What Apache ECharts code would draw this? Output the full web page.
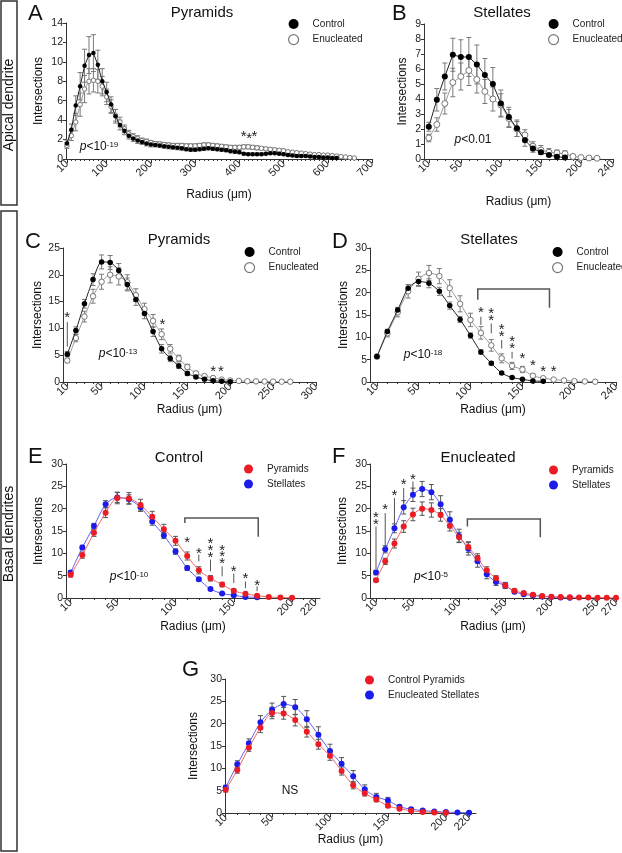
<!DOCTYPE html>
<html><head><meta charset="utf-8">
<script src="https://cdn.jsdelivr.net/npm/echarts@6/dist/echarts.min.js"></script>
<style>html,body{margin:0;padding:0;background:#fff}#c{width:622px;height:853px}</style>
</head><body><div id="c"></div>
<script>
const FONT = '"Liberation Sans", Arial, Helvetica, sans-serif';

// ---------- radii (µm) ----------
const apRadius = [10,20,30,40,50,60,70,80,90,100,110,120,130,140,150,160,170,180,190,200,210,220,230,240,250,260,270,280,290,300,310,320,330,340,350,360,370,380,390,400,410,420,430,440,450,460,470,480,490,500,510,520,530,540,550,560,570,580,590,600,610,620,630,640,650,660];
const basalRadius = [10,20,30,40,50,60,70,80,90,100,110,120,130,140,150,160,170,180,190,200,210,220,230,240,250,260,270];

// ---------- Apical dendrite: pyramids (A) ----------
const apPyrCtrl = [1.6,3.0,5.5,7.5,9.6,10.7,10.9,9.7,8.0,6.9,5.6,4.4,3.5,2.9,2.4,2.1,1.9,1.75,1.6,1.5,1.45,1.4,1.3,1.25,1.2,1.15,1.1,1.0,0.95,0.95,1.0,1.05,1.1,1.05,1.0,0.95,0.9,0.8,0.75,0.7,0.55,0.5,0.5,0.5,0.5,0.55,0.6,0.6,0.55,0.5,0.4,0.35,0.3,0.3,0.3,0.25,0.2,0.2,0.15,0.15,0.1,0.1];
const apPyrCtrlSem = [0.35,0.6,1.0,1.4,1.7,1.9,1.9,1.5,1.3,1.0,0.8,0.7,0.5,0.4,0.35,0.3,0.3,0.25,0.25,0.25,0.2,0.2,0.2,0.2,0.2,0.2,0.2,0.15,0.15,0.15,0.15,0.15,0.15,0.15,0.15,0.15,0.15,0.15,0.15,0.15,0.12,0.12,0.12,0.12,0.12,0.12,0.12,0.12,0.12,0.12,0.1,0.1,0.1,0.1,0.1,0.08,0.08,0.08,0.06,0.06,0.05,0.05];
const apPyrEnuc = [1.4,2.4,3.8,5.6,7.2,8.0,8.1,8.0,7.5,6.4,5.4,4.5,3.8,3.1,2.6,2.3,2.1,1.9,1.8,1.7,1.6,1.55,1.5,1.45,1.4,1.4,1.4,1.35,1.35,1.35,1.4,1.45,1.45,1.4,1.35,1.3,1.25,1.2,1.2,1.2,1.25,1.25,1.2,1.15,1.1,1.05,1.0,0.95,0.9,0.85,0.75,0.7,0.65,0.6,0.55,0.5,0.45,0.45,0.4,0.4,0.35,0.3,0.25,0.2,0.15,0.1];
const apPyrEnucSem = [0.3,0.5,0.9,1.2,1.4,1.3,1.2,1.2,1.0,0.8,0.7,0.6,0.5,0.4,0.35,0.3,0.3,0.25,0.25,0.2,0.2,0.2,0.2,0.2,0.2,0.2,0.2,0.2,0.2,0.2,0.2,0.2,0.2,0.2,0.2,0.2,0.2,0.2,0.2,0.2,0.2,0.2,0.2,0.2,0.15,0.15,0.15,0.15,0.15,0.15,0.12,0.12,0.12,0.12,0.1,0.1,0.1,0.1,0.1,0.1,0.08,0.08,0.06,0.06,0.05,0.05];

// ---------- Apical dendrite: stellates (B) ----------
const apStelCtrl = [2.15,3.95,5.5,6.95,6.8,6.8,6.3,5.6,5.0,3.7,2.8,2.05,1.25,0.7,0.45,0.27,0.15,0.1];
const apStelCtrlSem = [0.3,0.75,0.9,1.1,1.15,1.3,1.3,1.1,1.1,0.9,0.65,0.55,0.4,0.25,0.15,0.1,0.08,0.05];
const apStelEnuc = [1.4,2.3,3.7,5.1,5.5,5.9,5.3,4.5,4.0,3.6,2.7,2.0,1.6,0.85,0.6,0.45,0.4,0.35,0.17,0.1,0.07,0.05];
const apStelEnucSem = [0.25,0.45,0.7,0.95,0.9,1.0,0.9,0.8,0.8,0.75,0.6,0.5,0.35,0.3,0.3,0.25,0.2,0.2,0.1,0.05,0.05,0.03];

// ---------- Basal dendrites ----------
const pyrCtrl = [5.2,9.6,14.6,19.1,22.4,22.3,20.8,18.2,15.4,12.8,9.4,6.2,4.4,3.0,1.6,0.95,0.5,0.25,0.12,0.06];
const pyrCtrlSem = [0.5,0.7,0.8,1.1,1.3,1.3,1.3,1.2,1.1,1.0,0.9,0.8,0.6,0.5,0.4,0.3,0.2,0.1,0.1,0.05];
const pyrEnuc = [4.0,8.2,12.2,16.0,18.7,20.0,19.7,18.6,16.2,13.6,11.4,8.9,6.2,4.4,2.8,1.6,1.1,0.75,0.45,0.28,0.2,0.15,0.12,0.1,0.08,0.06,0.05];
const pyrEnucSem = [0.4,0.7,1.0,1.3,1.4,1.5,1.6,1.4,1.2,1.1,1.2,1.0,0.8,0.6,0.5,0.4,0.3,0.2,0.15,0.1,0.1,0.08,0.06,0.05,0.05,0.04,0.04];
const stelCtrl = [5.7,11.3,16.1,21.0,22.5,22.1,20.3,17.1,14.0,10.4,6.7,4.2,2.0,1.0,0.6,0.25,0.15];
const stelCtrlSem = [0.4,0.5,0.6,0.8,1.1,1.0,0.9,0.8,0.7,0.6,0.5,0.4,0.3,0.2,0.15,0.1,0.1];
const stelEnuc = [5.7,10.9,15.6,20.3,23.1,24.4,23.7,21.0,17.5,13.9,11.0,8.2,5.3,3.6,2.8,1.4,0.85,0.55,0.35,0.2,0.12,0.06];
const stelEnucSem = [0.5,0.8,1.0,1.5,1.5,1.7,1.7,1.9,1.8,1.5,1.4,1.3,1.0,0.8,0.7,0.4,0.3,0.2,0.15,0.1,0.08,0.05];

// ---------- tick labels ----------
const ticksA = [10,100,200,300,400,500,600,700];
const ticksB = [10,50,100,150,200,240];
const ticksC = [10,50,100,150,200,250,300];
const ticksD = [10,50,100,150,200,240];
const ticksE = [10,50,100,150,200,220];
const ticksF = [10,50,100,150,200,250,270];
const ticksG = [10,50,100,150,200,220];

// ---------- significance annotations (data coordinates) ----------
const starsA = [[410,2.6],[422,2.35],[434,2.6]];
const starsC = [[10,12.5],[121,11.3],[180,2.5],[189,2.4]];
const sigLinesC = [[10,11.2,6.6]];
const starsD = [[110,16.1],[120,16.0],[120,14.3],[130,12.4],[130,10.7],[140,9.75],[140,8.0],[150,5.85],[160,4.3],[170,3.0],[180,2.85]];
const sigLinesD = [[110,14.6,12.75],[120,13.1,10.9],[130,9.4,7.5],[140,6.75,5.25]];
const bracketD = [[107,176,20.8,18.4,16.6]];
const starsE = [[110,13.0],[120,10.6],[130,12.9],[130,11.3],[130,9.7],[140,11.3],[140,9.8],[140,8.3],[150,6.5],[160,4.85],[170,3.5]];
const sigLinesE = [[120,9.7,8.2],[130,8.6,6.0],[140,7.1,4.85],[150,5.45,3.35],[160,3.7,2.2],[170,2.6,1.5]];
const bracketE = [[108,171,17.9,16.8,13.7]];
const starsF = [[10,18.6],[10,17.1],[20,20.3],[30,23.6],[40,25.9],[50,27.2]];
const sigLinesF = [[10,16.0,6.5],[20,19.0,11.6],[30,22.4,16.5],[40,24.6,21.3],[50,26.1,23.9]];
const bracketF = [[109,188,17.7,16.0,13.6]];

// ---------- layout ----------
const panels = [
  {grid:{left:66, top:23, width:306, height:136}, xMin:8,   xMax:700, ticks:ticksA, yMax:14, yInt:2, gapY:21, gapX:30},
  {grid:{left:424,top:24, width:189, height:135}, xMin:4,   xMax:240, ticks:ticksB, yMax:9,  yInt:1, gapY:15, gapX:37},
  {grid:{left:63, top:248,width:253, height:134}, xMin:5,   xMax:300, ticks:ticksC, yMax:25, yInt:5, gapY:19, gapX:22},
  {grid:{left:370,top:248,width:246, height:134}, xMin:3.3, xMax:240, ticks:ticksD, yMax:30, yInt:5, gapY:20, gapX:22},
  {grid:{left:66, top:464,width:254, height:134}, xMin:6,   xMax:224, ticks:ticksE, yMax:30, yInt:5, gapY:21, gapX:23},
  {grid:{left:370,top:464,width:246, height:134}, xMin:3.5, xMax:270, ticks:ticksF, yMax:30, yInt:5, gapY:21, gapX:23},
  {grid:{left:225,top:679,width:251, height:134}, xMin:9.4, xMax:226, ticks:ticksG, yMax:30, yInt:5, gapY:25, gapX:21}
];

const AX = '#333';
const grids = [], xAxes = [], yAxes = [];
panels.forEach((p, i) => {
  grids.push(Object.assign({outerBoundsMode:'none', containLabel:false}, p.grid));
  const minor = [];
  for (let v = 10; v <= p.xMax; v += 10) if (p.ticks.indexOf(v) < 0) minor.push(v);
  xAxes.push({
    type:'value', gridIndex:i, position:'bottom', min:p.xMin, max:p.xMax,
    name:'Radius (\u03bcm)', nameLocation:'middle', nameGap:p.gapX, nameMoveOverlap:false,
    nameTextStyle:{fontSize:12, fontFamily:FONT, color:'#111'},
    axisLine:{show:true, lineStyle:{color:AX, width:1}},
    axisTick:{show:true, customValues:p.ticks, length:4, lineStyle:{color:AX}},
    axisLabel:{show:true, customValues:p.ticks, rotate:45, fontSize:11, fontFamily:FONT, color:'#222', margin:3},
    splitLine:{show:false}
  });
  xAxes.push({
    type:'value', gridIndex:i, position:'bottom', min:p.xMin, max:p.xMax,
    axisLine:{show:false}, axisLabel:{show:false}, splitLine:{show:false},
    axisTick:{show:true, customValues:minor, length:2, lineStyle:{color:AX}}
  });
  yAxes.push({
    type:'value', gridIndex:i, min:0, max:p.yMax, interval:p.yInt,
    name:'Intersections', nameLocation:'middle', nameGap:p.gapY, nameRotate:90, nameMoveOverlap:false,
    nameTextStyle:{fontSize:12, fontFamily:FONT, color:'#111'},
    axisLine:{show:true, lineStyle:{color:AX, width:1}},
    axisTick:{show:true, length:3, lineStyle:{color:AX}},
    axisLabel:{fontSize:10.5, fontFamily:FONT, color:'#222', margin:3},
    splitLine:{show:false}
  });
});

// ---------- series builders ----------
function pts(vals){ return vals.map((v, k) => [apRadius[k], v]); }
function bpts(vals){ return vals.map((v, k) => [basalRadius[k], v]); }
function epts(rad, vals, sem){ return vals.map((v, k) => [rad[k], v, sem[k]]); }

function lineS(name, i, data, st){
  return {type:'line', name:name, xAxisIndex:2*i, yAxisIndex:i, data:data,
    symbol:'circle', symbolSize:st.size, smooth:st.smooth || false, showSymbol:true,
    lineStyle:{color:st.line, width:1}, itemStyle:{color:st.fill, borderColor:st.border || st.fill, borderWidth:st.bw || 0},
    z:st.z || 3, silent:true, animation:false, clip:false};
}
function errS(i, data, color){
  return {type:'custom', xAxisIndex:2*i, yAxisIndex:i, data:data, z:1, silent:true, clip:false,
    renderItem:function(params, api){
      const x = api.value(0), y = api.value(1), e = api.value(2);
      const hi = api.coord([x, y + e]), lo = api.coord([x, Math.max(0, y - e)]);
      const w = 2.5, s = {stroke:color, lineWidth:1};
      return {type:'group', children:[
        {type:'line', shape:{x1:hi[0], y1:hi[1], x2:lo[0], y2:lo[1]}, style:s},
        {type:'line', shape:{x1:hi[0]-w, y1:hi[1], x2:hi[0]+w, y2:hi[1]}, style:s},
        {type:'line', shape:{x1:lo[0]-w, y1:lo[1], x2:lo[0]+w, y2:lo[1]}, style:s}
      ]};
    }};
}
function starS(i, data){
  return {type:'custom', xAxisIndex:2*i, yAxisIndex:i, data:data, z:6, silent:true, clip:false,
    renderItem:function(params, api){
      const c = api.coord([api.value(0), api.value(1)]);
      return {type:'text', x:c[0], y:c[1] + 3, style:{text:'*', fontSize:15, fontFamily:FONT, fill:'#222', align:'center', verticalAlign:'middle'}};
    }};
}
function sigLineS(i, data){
  return {type:'custom', xAxisIndex:2*i, yAxisIndex:i, data:data, z:6, silent:true, clip:false,
    renderItem:function(params, api){
      const a = api.coord([api.value(0), api.value(1)]), b = api.coord([api.value(0), api.value(2)]);
      return {type:'line', shape:{x1:a[0], y1:a[1], x2:b[0], y2:b[1]}, style:{stroke:'#555', lineWidth:1}};
    }};
}
function bracketS(i, data){
  return {type:'custom', xAxisIndex:2*i, yAxisIndex:i, data:data, z:6, silent:true, clip:false,
    renderItem:function(params, api){
      const x1 = api.value(0), x2 = api.value(1), yt = api.value(2), yl = api.value(3), yr = api.value(4);
      const P = [api.coord([x1, yl]), api.coord([x1, yt]), api.coord([x2, yt]), api.coord([x2, yr])];
      return {type:'polyline', shape:{points:P}, style:{stroke:'#555', lineWidth:1.5, fill:null}};
    }};
}

const BLK = {fill:'#000', line:'#222', z:4};
const OPEN = {fill:'#fff', border:'#777', bw:1, line:'#9a9a9a', z:3};
const RED = {fill:'#ec1c24', line:'#f06464', z:4, size:6, smooth:0.25};
const BLU = {fill:'#1c1cea', line:'#6060f0', z:3, size:6, smooth:0.25};
const EB = '#7a7a7a', EB2 = '#555';

const series = [
  // A
  errS(0, epts(apRadius, apPyrEnuc, apPyrEnucSem), EB),
  errS(0, epts(apRadius, apPyrCtrl, apPyrCtrlSem), EB),
  lineS('Enucleated', 0, pts(apPyrEnuc), Object.assign({size:4.5}, OPEN)),
  lineS('Control', 0, pts(apPyrCtrl), Object.assign({size:4.5}, BLK)),
  starS(0, starsA),
  // B
  errS(1, epts(apRadius, apStelEnuc, apStelEnucSem), EB),
  errS(1, epts(apRadius, apStelCtrl, apStelCtrlSem), EB),
  lineS('Enucleated', 1, pts(apStelEnuc), Object.assign({size:6}, OPEN)),
  lineS('Control', 1, pts(apStelCtrl), Object.assign({size:6}, BLK)),
  // C
  errS(2, epts(basalRadius, pyrEnuc, pyrEnucSem), EB),
  errS(2, epts(basalRadius, pyrCtrl, pyrCtrlSem), EB),
  lineS('Enucleated', 2, bpts(pyrEnuc), Object.assign({size:5.5, smooth:0.25}, OPEN)),
  lineS('Control', 2, bpts(pyrCtrl), Object.assign({size:5.5, smooth:0.25}, BLK)),
  starS(2, starsC), sigLineS(2, sigLinesC),
  // D
  errS(3, epts(basalRadius, stelEnuc, stelEnucSem), EB),
  errS(3, epts(basalRadius, stelCtrl, stelCtrlSem), EB),
  lineS('Enucleated', 3, bpts(stelEnuc), Object.assign({size:5.5, smooth:0.25}, OPEN)),
  lineS('Control', 3, bpts(stelCtrl), Object.assign({size:5.5, smooth:0.25}, BLK)),
  starS(3, starsD), sigLineS(3, sigLinesD), bracketS(3, bracketD),
  // E
  errS(4, epts(basalRadius, pyrCtrl, pyrCtrlSem), EB2),
  errS(4, epts(basalRadius, stelCtrl, stelCtrlSem), EB2),
  lineS('Stellates', 4, bpts(stelCtrl), BLU),
  lineS('Pyramids', 4, bpts(pyrCtrl), RED),
  starS(4, starsE), sigLineS(4, sigLinesE), bracketS(4, bracketE),
  // F
  errS(5, epts(basalRadius, pyrEnuc, pyrEnucSem), EB2),
  errS(5, epts(basalRadius, stelEnuc, stelEnucSem), EB2),
  lineS('Stellates', 5, bpts(stelEnuc), BLU),
  lineS('Pyramids', 5, bpts(pyrEnuc), RED),
  starS(5, starsF), sigLineS(5, sigLinesF), bracketS(5, bracketF),
  // G
  errS(6, epts(basalRadius, pyrCtrl, pyrCtrlSem), EB2),
  errS(6, epts(basalRadius, stelEnuc, stelEnucSem), EB2),
  lineS('Enucleated Stellates', 6, bpts(stelEnuc), BLU),
  lineS('Control Pyramids', 6, bpts(pyrCtrl), RED)
];

// ---------- legends ----------
function legend(left, top, items, size){
  return {orient:'vertical', left:left, top:top, padding:0, itemGap:5, itemWidth:size, itemHeight:size,
    selectedMode:false, textStyle:{fontSize:10, fontFamily:FONT, color:'#222', padding:[0,0,0,9]}, data:items};
}
const lgBW = [
  {name:'Control', icon:'circle', itemStyle:{color:'#000', borderWidth:0}},
  {name:'Enucleated', icon:'circle', itemStyle:{color:'#fff', borderColor:'#777', borderWidth:1.2}}
];
function lgRB(a, b){ return [
  {name:a, icon:'circle', itemStyle:{color:'#ec1c24', borderWidth:0}},
  {name:b, icon:'circle', itemStyle:{color:'#1c1cea', borderWidth:0}}
]; }

// ---------- titles ----------
function ttl(text, left, top, size, align){
  return {text:text, left:left, top:top, padding:0, textAlign:align || 'center',
    textStyle:{fontSize:size, fontWeight:'normal', fontFamily:FONT, color:'#111'}};
}

// ---------- p-values ----------
function pText(x, y, exp, plain){
  const rich = {
    i:{fontStyle:'italic', fontSize:12, fontFamily:FONT, fill:'#111'},
    n:{fontSize:12, fontFamily:FONT, fill:'#111'},
    s:{fontSize:8, fontFamily:FONT, fill:'#111', verticalAlign:'top', padding:[0,0,5,0]}
  };
  const text = plain ? plain : '{i|p}{n|' + exp[0] + '}' + (exp[1] ? '{s|' + exp[1] + '}' : '');
  return {type:'text', x:x, y:y, silent:true, style:{text:text, rich:rich, align:'center', verticalAlign:'middle', fontSize:12, fontFamily:FONT, fill:'#111'}};
}

const option = {
  animation:false,
  textStyle:{fontFamily:FONT},
  title:[
    ttl('Pyramids', 202, 5, 15), ttl('Stellates', 502, 5, 15),
    ttl('Pyramids', 179, 232, 15), ttl('Stellates', 489, 232, 15),
    ttl('Control', 179, 450, 15), ttl('Enucleated', 478, 450, 15),
    ttl('A', 28, 3, 22, 'left'), ttl('B', 392, 3, 22, 'left'),
    ttl('C', 25, 231, 22, 'left'), ttl('D', 332, 231, 22, 'left'),
    ttl('E', 28, 446, 22, 'left'), ttl('F', 332, 446, 22, 'left'),
    ttl('G', 182, 659, 22, 'left')
  ],
  legend:[
    legend(288, 19, lgBW, 10), legend(548, 19, lgBW, 10),
    legend(244, 247, lgBW, 10), legend(552, 247, lgBW, 10),
    legend(244, 464, lgRB('Pyramids','Stellates'), 9), legend(549, 465, lgRB('Pyramids','Stellates'), 9),
    legend(365, 675, lgRB('Control Pyramids','Enucleated Stellates'), 9)
  ],
  grid:grids, xAxis:xAxes, yAxis:yAxes, series:series,
  graphic:[
    {type:'rect', shape:{x:1, y:1, width:16, height:204}, style:{fill:null, stroke:'#333', lineWidth:1.5}, silent:true},
    {type:'rect', shape:{x:1, y:211, width:16, height:640}, style:{fill:null, stroke:'#333', lineWidth:1.5}, silent:true},
    {type:'text', x:9.5, y:105, rotation:Math.PI/2, silent:true, style:{text:'Apical dendrite', fontSize:14, fontFamily:FONT, fill:'#111', align:'center', verticalAlign:'middle'}},
    {type:'text', x:9.5, y:534, rotation:Math.PI/2, silent:true, style:{text:'Basal dendrites', fontSize:14, fontFamily:FONT, fill:'#111', align:'center', verticalAlign:'middle'}},
    pText(99, 147, ['<10','-19']),
    pText(473, 140, ['<0.01', null]),
    pText(118, 354, ['<10','-13']),
    pText(423, 355, ['<10','-18']),
    pText(129, 577, ['<10','-10']),
    pText(431, 577, ['<10','-5']),
    pText(290, 791, null, '{n|NS}')
  ]
};

const chart = echarts.init(document.getElementById('c'), null, {renderer:'canvas'});
chart.setOption(option);
</script>
</body></html>
